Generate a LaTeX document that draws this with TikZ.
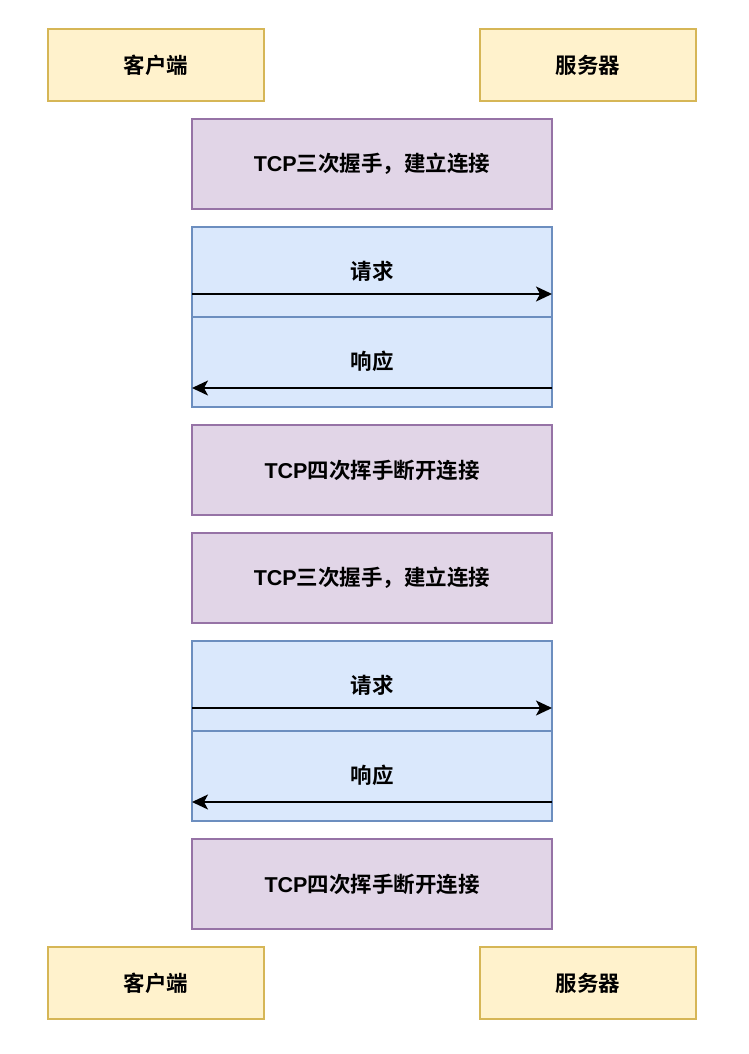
\documentclass[tikz,border=0pt]{standalone}
\usepackage{fontspec}
\setmainfont{Noto Sans CJK SC}[BoldFont={Noto Sans CJK SC Bold}]
\newfontfamily\latfont{Liberation Sans}
\usetikzlibrary{arrows.meta}
\definecolor{yfill}{HTML}{FFF2CC}\definecolor{ydraw}{HTML}{D6B656}
\definecolor{pfill}{HTML}{E1D5E7}\definecolor{pdraw}{HTML}{9673A6}
\definecolor{bfill}{HTML}{DAE8FC}\definecolor{bdraw}{HTML}{6C8EBF}
\tikzset{
  base/.style={rectangle, line width=1.4pt, inner sep=0pt, font=\fontsize{21.5}{24}\selectfont\bfseries},
  endbox/.style={base, fill=yfill, draw=ydraw, minimum width=216pt, minimum height=72pt},
  tcpbox/.style={base, fill=pfill, draw=pdraw, minimum width=360pt, minimum height=90pt},
  msgbox/.style={base, fill=bfill, draw=bdraw, minimum width=360pt, minimum height=90pt},
  lbl/.style={font=\fontsize{21.5}{24}\selectfont\bfseries, inner sep=0pt},
  msg/.style={line width=1.6pt, -{Stealth[length=16pt,width=15pt,inset=4pt]}},
}
\begin{document}
\begin{tikzpicture}[x=1pt,y=-1pt]
\useasboundingbox (0,0) rectangle (749,1054);
\node[endbox] (c1) at (156,65) {客户端};
\node[endbox] (s1) at (588,65) {服务器};
\node[tcpbox] (t1) at (372,164) {{\latfont TCP}三次握手，建立连接};
\node[msgbox] (q1) at (372,272) {};
\node[msgbox] (p1) at (372,362) {};
\node[lbl] (q1l) at (372,271) {请求};
\node[lbl] (p1l) at (372,361) {响应};
\coordinate (q1a) at (192,294); \coordinate (q1b) at (552,294);
\coordinate (p1a) at (552,388); \coordinate (p1b) at (192,388);
\draw[msg] (q1a) -- (q1b);
\draw[msg] (p1a) -- (p1b);
\node[tcpbox] (f1) at (372,470) {{\latfont TCP}四次挥手断开连接};
\node[tcpbox] (t2) at (372,578) {{\latfont TCP}三次握手，建立连接};
\node[msgbox] (q2) at (372,686) {};
\node[msgbox] (p2) at (372,776) {};
\node[lbl] (q2l) at (372,685) {请求};
\node[lbl] (p2l) at (372,775) {响应};
\coordinate (q2a) at (192,708); \coordinate (q2b) at (552,708);
\coordinate (p2a) at (552,802); \coordinate (p2b) at (192,802);
\draw[msg] (q2a) -- (q2b);
\draw[msg] (p2a) -- (p2b);
\node[tcpbox] (f2) at (372,884) {{\latfont TCP}四次挥手断开连接};
\node[endbox] (c2) at (156,983) {客户端};
\node[endbox] (s2) at (588,983) {服务器};
\end{tikzpicture}
\end{document}
